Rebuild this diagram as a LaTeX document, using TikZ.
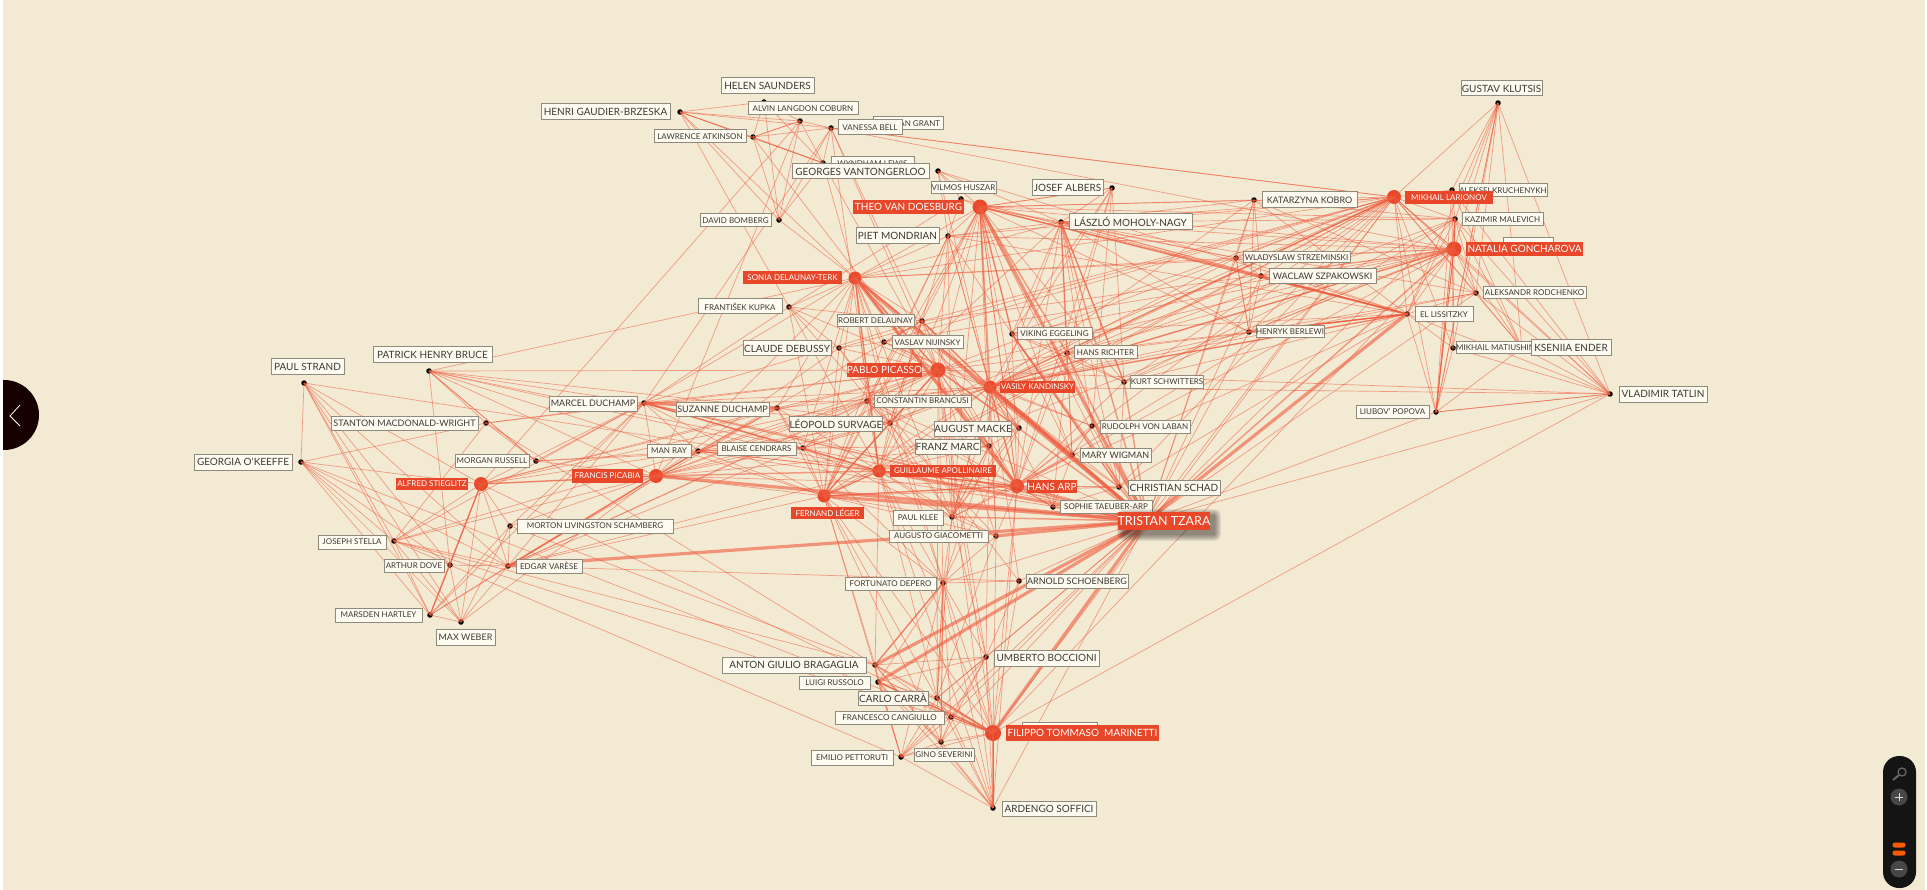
\documentclass[tikz,border=0pt]{standalone}
\usepackage{fontspec}
\setmainfont{Lato}
\usepackage{amsmath}
\usetikzlibrary{shapes}

\definecolor{paper}{HTML}{F3EAD3}
\definecolor{hubred}{HTML}{E8472A}
\definecolor{linkred}{HTML}{EE5A3C}
\definecolor{labfill}{HTML}{FFFDF3}
\definecolor{labline}{HTML}{8E8B7E}
\definecolor{labtext}{HTML}{3B3A36}

% label box from its corners
\newcommand\lab[7][labsmall]{%
  \pgfmathsetmacro\labw{#5-#3}%
  \pgfmathsetmacro\labh{#6-#4}%
  \pgfmathsetmacro\labx{(#3+#5)/2}%
  \pgfmathsetmacro\laby{(#4+#6)/2}%
  \node[#1, minimum width=\labw pt, minimum height=\labh pt] (#2) at (\labx, \laby) {#7};}

\begin{document}
\begin{tikzpicture}[x=1pt, y=-1pt,
    person/.style={circle, fill=black, inner sep=0pt, minimum size=5.5pt},
    hub/.style={circle, fill=hubred, inner sep=0pt},
    link/.style={draw=linkred, line width=0.7pt, opacity=0.55},
    linkmid/.style={draw=linkred, line width=1.5pt, opacity=0.55},
    linkbig/.style={draw=linkred, line width=3.2pt, opacity=0.6},
    labsmall/.style={draw=labline, line width=1pt, fill=labfill, fill opacity=0.92, text opacity=1,
      text=labtext, inner sep=0pt, font=\fontsize{8}{8}\selectfont},
    labmid/.style={labsmall, font=\fontsize{9}{9}\selectfont},
    labbig/.style={labsmall, font=\fontsize{10}{10}\selectfont},
    labhub/.style={fill=hubred, text=white, inner sep=0pt, font=\fontsize{8}{8}\selectfont},
    labhubbig/.style={labhub, font=\fontsize{10}{10}\selectfont},
  ]
  \useasboundingbox (0,0) rectangle (1927,890);
  \fill[white] (0,0) rectangle (1927,890);
  \fill[paper] (3,0) rectangle (1925,890);

  % people
  \foreach \n/\x/\y in {saunders/764/102, coburn/800/121, gaudier/680/112, atkinson/753/137, bell/831/128,
      lewis/823/163, vantongerloo/938/171, huszar/961/199, mondrian/948/236, bomberg/779/220, kupka/789/307,
      klutsis/1498/103, kobro/1254/200, kruchenykh/1452/190, malevich/1455/219, strzeminski/1236/258,
      szpakowski/1261/276, rodchenko/1476/293, lissitzky/1407/314, berlewi/1249/332, matiushin/1453/348,
      ender/1522/348, tatlin/1610/394, popova/1436/412, rdelaunay/922/321, nijinsky/884/342, debussy/839/348,
      eggeling/1012/334, richter/1067/353, schwitters/1124/382, brancusi/867/401, sduchamp/777/408,
      survage/890/423, macke/1019/428, laban/1092/426, marc/989/446, cendrars/803/448, wigman/1072/455,
      schad/1119/487, taeuber/1053/507, klee/952/517, giacometti/996/536, bruce/429/371, strand/304/383,
      macdonald/486/423, mduchamp/644/403, russell/536/461, okeeffe/301/462, manray/698/451, schamberg/510/526,
      stella/394/541, dove/450/565, varese/508/566, hartley/430/615, weber/461/622, depero/943/583,
      schoenberg/1019/581, bragaglia/875/665, boccioni/986/657, russolo/878/682, carra/937/698,
      cangiullo/951/717, severini/941/742, pettoruti/901/757, soffici/993/808, albers/1112/188, moholy/1061/222}
    \node[person] (\n) at (\x, \y) {};

  \foreach \n/\x/\y/\d in {doesburg/980/207/15, delaunayt/855/278/13, larionov/1394/197/14, goncharova/1454/249/15,
      picasso/938/370/15, kandinsky/990/387/13, apollinaire/879/471/13, arp/1017/486/14, leger/824/496/13,
      stieglitz/481/484/14, picabia/656/476/14, marinetti/993/733/16, tzara/1147/521/8}
    \node[hub, minimum size=\d pt] (\n) at (\x, \y) {};

  % links, thin
  \foreach \a/\others in {
      gaudier/{saunders,coburn,atkinson,bell,lewis,lewis,kupka,delaunayt,bomberg},
      saunders/{atkinson,lewis,bomberg,coburn},
      coburn/{atkinson,bell,lewis,bomberg,stieglitz,picabia},
      atkinson/{lewis,bell,bomberg,coburn,marc},
      bomberg/{lewis,bell,delaunayt},
      lewis/{delaunayt,bell,picasso},
      bell/{picasso,apollinaire,larionov,goncharova,mduchamp,larionov,rdelaunay},
      strand/{okeeffe,stieglitz,stella,dove,hartley,weber,varese,apollinaire},
      okeeffe/{macdonald,stieglitz,stella,hartley,weber,dove,varese,marinetti},
      bruce/{macdonald,russell,russell,dove,picabia,mduchamp,sduchamp,picasso,apollinaire,leger,delaunayt,cendrars},
      macdonald/{russell,stella,mduchamp,bragaglia,picasso},
      russell/{picabia,mduchamp,manray,cendrars},
      stieglitz/{mduchamp,manray,varese,hartley,weber,dove,stella,brancusi,picasso,schamberg,sduchamp,picabia,marinetti},
      stella/{varese,hartley,weber,dove,mduchamp,picabia,marinetti,bragaglia,manray},
      dove/{hartley,weber,varese,pettoruti},
      hartley/{weber,varese,schamberg,mduchamp,picabia},
      weber/{varese,schamberg,picabia},
      schamberg/{varese,mduchamp,picabia,bragaglia},
      varese/{mduchamp,manray,brancusi,picasso,apollinaire,leger,schoenberg,sduchamp,cendrars},
      picabia/{mduchamp,manray,arp,picasso,cendrars,leger,survage,sduchamp,kandinsky,brancusi,delaunayt,rdelaunay,debussy,marc},
      mduchamp/{manray,cendrars,apollinaire,picasso,brancusi,leger,delaunayt,survage,rdelaunay,kupka,arp,kandinsky},
      sduchamp/{manray,cendrars,apollinaire,picasso,leger,delaunayt,survage,kandinsky},
      manray/{cendrars,apollinaire,leger,picasso,brancusi,arp,tzara,survage},
      cendrars/{apollinaire,leger,picasso,delaunayt,survage,brancusi,kandinsky,tzara,marc,klee,depero},
      delaunayt/{kupka,kandinsky,picasso,apollinaire,leger,rdelaunay,nijinsky,debussy,survage,brancusi,doesburg,mondrian,marc,macke,arp,klee,larionov,goncharova,moholy,strzeminski,depero,wigman},
      kupka/{rdelaunay,picasso,debussy,leger,survage,apollinaire},
      rdelaunay/{picasso,leger,apollinaire,kandinsky,nijinsky,macke,marc,arp,goncharova,larionov,doesburg,survage},
      nijinsky/{debussy,picasso,goncharova,larionov,kandinsky,leger,laban},
      debussy/{picasso,survage,leger,schoenberg,larionov},
      picasso/{apollinaire,leger,brancusi,klee,survage,kandinsky,doesburg,marc,macke,arp,depero,giacometti,boccioni,carra,soffici,marinetti,goncharova,larionov,mondrian,tatlin,lissitzky},
      brancusi/{apollinaire,leger,survage,kandinsky,doesburg,arp,klee,giacometti,tzara,moholy},
      survage/{apollinaire,leger,kandinsky,arp,larionov,klee,depero,mondrian},
      apollinaire/{leger,klee,arp,kandinsky,doesburg,marc,giacometti,marinetti,carra,soffici,depero,larionov,goncharova,bragaglia},
      leger/{klee,arp,kandinsky,doesburg,marinetti,giacometti,depero,bragaglia,larionov,schad,severini,pettoruti,carra},
      klee/{arp,kandinsky,doesburg,marc,macke,giacometti,depero,moholy,carra,mondrian,boccioni},
      giacometti/{arp,depero,doesburg,marinetti,kandinsky,carra},
      marc/{macke,kandinsky,arp,klee,doesburg,boccioni,depero},
      macke/{kandinsky,arp,depero,doesburg},
      doesburg/{vantongerloo,huszar,mondrian,moholy,albers,eggeling,schwitters,larionov,goncharova,lissitzky,malevich,strzeminski,kobro,wigman,schad,berlewi,szpakowski,arp,arp},
      vantongerloo/{huszar,mondrian,kandinsky,moholy,lissitzky},
      huszar/{mondrian,kupka,lissitzky},
      mondrian/{moholy,kandinsky,arp,lissitzky,brancusi,eggeling,larionov,goncharova,leger},
      moholy/{albers,eggeling,schwitters,arp,wigman,schad,lissitzky,malevich,rodchenko,larionov,goncharova,laban,strzeminski,kobro,szpakowski,berlewi},
      albers/{eggeling,richter,schwitters,kandinsky,doesburg,arp,laban},
      eggeling/{richter,schwitters,arp,schad,wigman,larionov,goncharova,lissitzky},
      richter/{schwitters,arp,schad,wigman,larionov,goncharova,lissitzky,taeuber,klee},
      schwitters/{arp,schad,lissitzky,malevich,goncharova,larionov},
      kandinsky/{macke,laban,schoenberg,goncharova,larionov,lissitzky,malevich,tatlin,rodchenko,taeuber,schad,kobro,szpakowski,strzeminski,berlewi,klee},
      laban/{wigman,arp,tzara},
      wigman/{arp,schad,taeuber,klee},
      arp/{schad,schad,taeuber,taeuber,lissitzky,goncharova,larionov,malevich,soffici,marinetti},
      schad/{taeuber,lissitzky,larionov},
      tzara/{schoenberg,boccioni,soffici,tatlin,popova,malevich,larionov,kobro,strzeminski,szpakowski,berlewi,rodchenko,depero,carra,cangiullo,severini,pettoruti},
      marinetti/{bragaglia,russolo,russolo,carra,carra,cangiullo,cangiullo,severini,pettoruti,soffici,soffici,boccioni,depero,larionov,goncharova,tatlin,schoenberg},
      bragaglia/{russolo,carra,cangiullo,severini,pettoruti,boccioni,depero,soffici},
      russolo/{carra,cangiullo,severini,pettoruti,boccioni,depero,soffici},
      carra/{cangiullo,severini,pettoruti,boccioni,depero,depero,soffici},
      cangiullo/{severini,pettoruti,boccioni,depero,soffici},
      severini/{pettoruti,boccioni,depero,depero,soffici},
      pettoruti/{boccioni,depero,soffici},
      boccioni/{depero,soffici,schoenberg},
      depero/{soffici,schoenberg},
      kobro/{strzeminski,szpakowski,berlewi,malevich,lissitzky,rodchenko},
      strzeminski/{szpakowski,berlewi,berlewi,lissitzky,larionov,goncharova},
      szpakowski/{berlewi,lissitzky,lissitzky,larionov,goncharova},
      berlewi/{lissitzky,lissitzky,larionov,goncharova,rodchenko},
      larionov/{klutsis,kruchenykh,malevich,goncharova,goncharova,rodchenko,lissitzky,ender,tatlin,popova,matiushin},
      goncharova/{klutsis,malevich,malevich,rodchenko,lissitzky,matiushin,ender,tatlin,popova,popova,popova},
      klutsis/{kruchenykh,malevich,rodchenko,lissitzky,ender,tatlin,popova,popova,matiushin},
      kruchenykh/{malevich,matiushin,ender,tatlin,popova},
      malevich/{rodchenko,lissitzky,ender,tatlin,popova,popova},
      rodchenko/{lissitzky,ender,tatlin},
      lissitzky/{matiushin,tatlin,popova},
      matiushin/{tatlin,popova},
      ender/{tatlin,popova},
      popova/{tatlin,tatlin}}
    \foreach \b in \others
      \draw[link] (\a.center) -- (\b.center);

  % links, heavier
  \foreach \a/\b in {stieglitz/picabia, stieglitz/hartley, picabia/varese, picabia/apollinaire,
      mduchamp/apollinaire, manray/cendrars, delaunayt/picasso, delaunayt/apollinaire,
      rdelaunay/kandinsky, doesburg/richter, doesburg/kandinsky, doesburg/eggeling, moholy/richter,
      moholy/schwitters, eggeling/schad, kandinsky/arp, picasso/leger, apollinaire/arp,
      apollinaire/leger, szpakowski/lissitzky, berlewi/lissitzky, malevich/goncharova,
      larionov/kandinsky, goncharova/kandinsky, lissitzky/doesburg,
      lissitzky/kandinsky, marinetti/russolo, marinetti/carra, bragaglia/depero, marinetti/soffici, leger/arp}
    \draw[linkmid] (\a.center) -- (\b.center);

  \foreach \a/\b in {tzara/varese, tzara/bragaglia, tzara/russolo, tzara/marinetti, tzara/doesburg, tzara/picabia, tzara/arp,
      tzara/kandinsky, tzara/giacometti, tzara/apollinaire, tzara/leger, tzara/lissitzky, delaunayt/arp,
      delaunayt/tzara, sduchamp/mduchamp, kandinsky/wigman}
    \draw[linkbig] (\a.center) -- (\b.center);
  \foreach \a/\b in {tzara/moholy, tzara/richter, tzara/eggeling, tzara/picasso, tzara/klee, tzara/schad, tzara/taeuber, tzara/wigman,
      tzara/mduchamp, tzara/schwitters, tzara/goncharova}
    \draw[linkmid] (\a.center) -- (\b.center);

  % labels
  \lab{blankL}{1503}{238}{1553}{250}{}
  \lab{ballaL}{1022}{722}{1097}{735}{}
  \lab{grantL}{873}{117}{943}{130}{DUNCAN GRANT}
  \lab{lewisL}{831}{157}{914}{170}{WYNDHAM LEWIS}
  \lab{kruchenykhL}{1459}{184}{1547}{197}{ALEKSEI KRUCHENYKH}
  \lab[labbig]{saundersL}{721}{78}{814}{94}{HELEN SAUNDERS}
  \lab{coburnL}{748}{102}{858}{115}{ALVIN LANGDON COBURN}
  \lab[labbig]{gaudierL}{541}{104}{670}{120}{HENRI GAUDIER-BRZESKA}
  \lab{atkinsonL}{654}{130}{746}{143}{LAWRENCE ATKINSON}
  \lab{bellL}{838}{120}{902}{135}{VANESSA BELL}
  \lab[labbig]{vantongerlooL}{792}{164}{929}{179}{GEORGES VANTONGERLOO}
  \lab{huszarL}{931}{182}{996}{194}{VILMOS HUSZAR}
  \lab[labhubbig]{doesburgL}{853}{200}{964}{214}{THEO VAN DOESBURG}
  \lab[labbig]{mondrianL}{856}{228}{939}{244}{PIET MONDRIAN}
  \lab{bombergL}{700}{214}{771}{227}{DAVID BOMBERG}
  \lab[labhub]{delaunaytL}{743}{271}{842}{284}{SONIA DELAUNAY-TERK}
  \lab{kupkaL}{698}{299}{782}{314}{FRANTIŠEK KUPKA}
  \lab[labbig]{klutsisL}{1461}{81}{1542}{96}{GUSTAV KLUTSIS}
  \lab[labmid]{kobroL}{1262}{192}{1357}{208}{KATARZYNA KOBRO}
  \lab[labhub]{larionovL}{1405}{191}{1493}{204}{MIKHAIL LARIONOV}
  \lab{malevichL}{1462}{213}{1543}{226}{KAZIMIR MALEVICH}
  \lab[labhubbig]{goncharovaL}{1466}{242}{1583}{256}{NATALIA GONCHAROVA}
  \lab{strzeminskiL}{1243}{252}{1350}{263}{WLADYSLAW STRZEMINSKI}
  \lab[labmid]{szpakowskiL}{1269}{269}{1376}{284}{WACLAW SZPAKOWSKI}
  \lab{rodchenkoL}{1483}{287}{1586}{299}{ALEKSANDR RODCHENKO}
  \lab{lissitzkyL}{1415}{307}{1473}{322}{EL LISSITZKY}
  \lab{berlewiL}{1256}{326}{1324}{338}{HENRYK BERLEWI}
  \lab{matiushinL}{1459}{342}{1532}{354}{MIKHAIL MATIUSHIN}
  \lab[labbig]{enderL}{1531}{340}{1611}{356}{KSENIIA ENDER}
  \lab[labbig]{tatlinL}{1619}{386}{1707}{402}{VLADIMIR TATLIN}
  \lab{popovaL}{1356}{405}{1429}{418}{LIUBOV' POPOVA}
  \lab{rdelaunayL}{837}{315}{914}{327}{ROBERT DELAUNAY}
  \lab{nijinskyL}{892}{336}{963}{349}{VASLAV NIJINSKY}
  \lab[labbig]{debussyL}{743}{341}{831}{356}{CLAUDE DEBUSSY}
  \lab[labhubbig]{picassoL}{847}{363}{922}{377}{PABLO PICASSO}
  \lab[labhub]{kandinskyL}{1000}{381}{1075}{393}{VASILY KANDINSKY}
  \lab{eggelingL}{1017}{328}{1092}{340}{VIKING EGGELING}
  \lab{richterL}{1074}{346}{1137}{359}{HANS RICHTER}
  \lab{schwittersL}{1131}{376}{1203}{388}{KURT SCHWITTERS}
  \lab{brancusiL}{874}{395}{971}{407}{CONSTANTIN BRANCUSI}
  \lab[labmid]{sduchampL}{676}{402}{769}{416}{SUZANNE DUCHAMP}
  \lab[labbig]{survageL}{790}{416}{882}{431}{LÉOPOLD SURVAGE}
  \lab[labbig]{mackeL}{935}{421}{1011}{436}{AUGUST MACKE}
  \lab{labanL}{1100}{420}{1190}{433}{RUDOLPH VON LABAN}
  \lab[labbig]{marcL}{915}{439}{980}{454}{FRANZ MARC}
  \lab{cendrarsL}{717}{442}{796}{455}{BLAISE CENDRARS}
  \lab[labmid]{wigmanL}{1080}{448}{1151}{462}{MARY WIGMAN}
  \lab[labhub]{apollinaireL}{890}{465}{996}{477}{GUILLAUME APOLLINAIRE}
  \lab[labhubbig]{arpL}{1028}{480}{1076}{493}{HANS ARP}
  \lab[labbig]{schadL}{1128}{480}{1220}{495}{CHRISTIAN SCHAD}
  \lab[labhub]{legerL}{791}{507}{864}{519}{FERNAND LÉGER}
  \lab{taeuberL}{1060}{500}{1152}{513}{SOPHIE TAEUBER-ARP}
  \lab{kleeL}{893}{510}{943}{525}{PAUL KLEE}
  \lab{giacomettiL}{889}{530}{988}{542}{AUGUSTO GIACOMETTI}
  \lab[labbig]{bruceL}{373}{347}{492}{363}{PATRICK HENRY BRUCE}
  \lab[labbig]{strandL}{271}{359}{344}{375}{PAUL STRAND}
  \lab[labmid]{macdonaldL}{331}{416}{478}{430}{STANTON MACDONALD-WRIGHT}
  \lab[labmid]{mduchampL}{549}{396}{637}{411}{MARCEL DUCHAMP}
  \lab{russellL}{455}{454}{529}{467}{MORGAN RUSSELL}
  \lab[labbig]{okeeffeL}{194}{454}{292}{470}{GEORGIA O'KEEFFE}
  \lab[labhub]{stieglitzL}{396}{478}{468}{490}{ALFRED STIEGLITZ}
  \lab{manrayL}{647}{444}{691}{457}{MAN RAY}
  \lab[labhub]{picabiaL}{572}{469}{643}{483}{FRANCIS PICABIA}
  \lab{schambergL}{517}{519}{673}{533}{MORTON LIVINGSTON SCHAMBERG}
  \lab{stellaL}{318}{535}{386}{549}{JOSEPH STELLA}
  \lab{doveL}{384}{559}{444}{572}{ARTHUR DOVE}
  \lab{vareseL}{516}{559}{582}{573}{EDGAR VARÈSE}
  \lab{hartleyL}{335}{608}{422}{622}{MARSDEN HARTLEY}
  \lab[labmid]{weberL}{436}{629}{495}{645}{MAX WEBER}
  \lab{deperoL}{845}{577}{936}{590}{FORTUNATO DEPERO}
  \lab[labmid]{schoenbergL}{1026}{574}{1128}{588}{ARNOLD SCHOENBERG}
  \lab[labbig]{bragagliaL}{722}{657}{866}{673}{ANTON GIULIO BRAGAGLIA}
  \lab[labbig]{boccioniL}{994}{650}{1099}{666}{UMBERTO BOCCIONI}
  \lab{russoloL}{799}{676}{870}{689}{LUIGI RUSSOLO}
  \lab[labbig]{carraL}{858}{691}{928}{705}{CARLO CARRÀ}
  \lab{cangiulloL}{835}{711}{944}{724}{FRANCESCO CANGIULLO}
  \lab[labhubbig]{marinettiL}{1006}{725}{1159}{741}{FILIPPO TOMMASO\ \ MARINETTI}
  \lab{severiniL}{914}{748}{974}{761}{GINO SEVERINI}
  \lab{pettorutiL}{811}{750}{893}{765}{EMILIO PETTORUTI}
  \lab[labbig]{sofficiL}{1002}{801}{1096}{816}{ARDENGO SOFFICI}
  \lab[labbig]{albersL}{1032}{180}{1103}{196}{JOSEF ALBERS}
  \lab[labbig]{moholyL}{1069}{214}{1192}{230}{LÁSZLÓ MOHOLY-NAGY}

  % the one label with a shadow
  \foreach \r in {1,2,...,7}
    \fill[black, opacity=0.07, rounded corners=\r pt] (1119+5-\r, 512+4-\r) rectangle (1209+5+\r, 530+4+\r);
  \node[fill=hubred, text=white, inner sep=0pt, minimum width=90pt, minimum height=18pt,
    font=\fontsize{12.5}{12.5}\selectfont] (tzaraL) at (1164, 521) {TRISTAN TZARA};

  % back button
  \begin{scope}
    \clip (3,370) rectangle (50,460);
    \fill[black!85!red!60!black] (4,415) circle (35);
  \end{scope}
  \draw[white, line width=0.8pt] (20,405) -- (10,416) -- (20,426);

  % zoom panel
  \fill[black!92, rounded corners=16pt] (1883,756) rectangle (1916,888);
  \draw[black!60, line width=1.3pt] (1902,772) circle (4);
  \draw[black!60, line width=2pt] (1899,775) -- (1893,780);
  \fill[black!72] (1899,797) circle (8.5);
  \fill[black!72] (1899,869) circle (8.5);
  \draw[white!85!black, line width=1pt] (1895,797) -- (1903,797);
  \draw[white!85!black, line width=1pt] (1899,793) -- (1899,801);
  \draw[white!85!black, line width=1pt] (1895,869) -- (1903,869);
  \fill[orange!70!red, rounded corners=2.4pt] (1892.5,842.5) rectangle (1905.5,847.5);
  \fill[orange!70!red, rounded corners=2.4pt] (1892.5,850.5) rectangle (1905.5,855.5);
\end{tikzpicture}
\end{document}
